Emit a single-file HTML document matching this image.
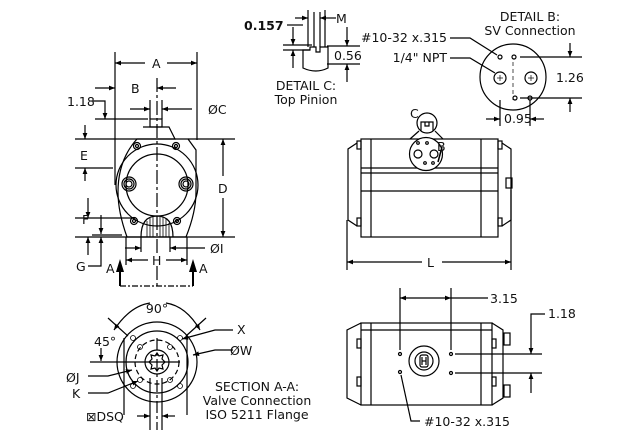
<!DOCTYPE html>
<html><head><meta charset="utf-8"><style>
html,body{margin:0;padding:0;background:#fff;}
svg{display:block}
text{font-family:"DejaVu Sans","Liberation Sans",sans-serif;font-size:12.5px;fill:#111}
</style></head><body>
<svg width="624" height="432" viewBox="0 0 624 432" xmlns="http://www.w3.org/2000/svg">
<defs>
<marker id="a" viewBox="0 0 10 10" refX="10" refY="5" markerWidth="8" markerHeight="6" orient="auto-start-reverse" markerUnits="userSpaceOnUse"><path d="M0,1 L10,5 L0,9 z" fill="#000"/></marker>
</defs>
<g stroke="#000" stroke-width="1.2" fill="none">
<!-- FRONT VIEW -->
<line x1="115" y1="52" x2="115" y2="185"/>
<line x1="197" y1="52" x2="197" y2="140"/>
<line x1="115" y1="63" x2="145" y2="63" marker-start="url(#a)"/>
<line x1="167" y1="63" x2="197" y2="63" marker-end="url(#a)"/>
<line x1="95" y1="88" x2="115" y2="88" marker-end="url(#a)"/>
<line x1="176" y1="88" x2="157" y2="88" marker-end="url(#a)"/>
<line x1="157" y1="78" x2="157" y2="253" stroke-dasharray="14,3,3,3"/>
<line x1="157" y1="266" x2="157" y2="288" stroke-dasharray="14,3,3,3"/>
<line x1="150" y1="100" x2="150" y2="119"/>
<line x1="162" y1="100" x2="162" y2="119"/>
<line x1="130" y1="109" x2="150" y2="109" marker-end="url(#a)"/>
<line x1="192" y1="109" x2="162" y2="109" marker-end="url(#a)"/>
<polyline points="93,101 105,101 105,119" marker-end="url(#a)"/>
<line x1="95" y1="119" x2="148" y2="119"/>
<rect x="150" y="119" width="12" height="8"/>
<polyline points="143,127 169,127 175,139 137,139"/>
<line x1="75" y1="139" x2="137" y2="139"/>
<line x1="188" y1="139" x2="235" y2="139"/>
<path d="M137,139 L188,139 L196,150 L196,192 Q196,212 186,237 L127,237 Q118,212 118,192 Q118,160 137,139 Z"/>
<circle cx="157" cy="185" r="41"/>
<circle cx="157" cy="185" r="31"/>
<circle cx="137" cy="146" r="3.5"/><circle cx="137" cy="146" r="1.5"/>
<circle cx="176" cy="146" r="3.5"/><circle cx="176" cy="146" r="1.5"/>
<circle cx="134" cy="221" r="3.5"/><circle cx="134" cy="221" r="1.5"/>
<circle cx="177" cy="221" r="3.5"/><circle cx="177" cy="221" r="1.5"/>
<circle cx="129" cy="184" r="7"/><circle cx="129" cy="184" r="5"/><circle cx="129" cy="184" r="3"/>
<circle cx="186" cy="184" r="7"/><circle cx="186" cy="184" r="5"/><circle cx="186" cy="184" r="3"/>
<path d="M141,237 Q141,216 157,216 Q173,216 173,237"/>
<g stroke-width="0.8"><line x1="147" y1="221" x2="147" y2="237"/><line x1="150" y1="218" x2="150" y2="237"/><line x1="153" y1="217" x2="153" y2="237"/><line x1="160" y1="217" x2="160" y2="237"/><line x1="163" y1="217" x2="163" y2="237"/><line x1="166" y1="219" x2="166" y2="237"/><line x1="169" y1="223" x2="169" y2="237"/></g>
<line x1="75" y1="237" x2="235" y2="237"/>
<line x1="75" y1="168" x2="113" y2="168"/>
<line x1="85" y1="125" x2="85" y2="139" marker-end="url(#a)"/>
<line x1="85" y1="181" x2="85" y2="168" marker-end="url(#a)"/>
<line x1="223" y1="176" x2="223" y2="139" marker-end="url(#a)"/>
<line x1="223" y1="198" x2="223" y2="237" marker-end="url(#a)"/>
<line x1="75" y1="218" x2="135" y2="218"/>
<line x1="88" y1="198" x2="88" y2="218" marker-end="url(#a)"/>
<line x1="88" y1="255" x2="88" y2="237" marker-end="url(#a)"/>
<line x1="92" y1="235" x2="122" y2="235"/>
<polyline points="88,266 101,266 101,237" marker-end="url(#a)"/>
<line x1="101" y1="215" x2="101" y2="234" marker-end="url(#a)"/>
<line x1="141" y1="237" x2="141" y2="252"/>
<line x1="170" y1="237" x2="170" y2="252"/>
<line x1="125" y1="248" x2="141" y2="248" marker-end="url(#a)"/>
<line x1="205" y1="248" x2="170" y2="248" marker-end="url(#a)"/>
<line x1="126" y1="237" x2="126" y2="265"/>
<line x1="187" y1="237" x2="187" y2="265"/>
<line x1="126" y1="260" x2="148" y2="260" marker-start="url(#a)"/>
<line x1="166" y1="260" x2="187" y2="260" marker-end="url(#a)"/>
<line x1="120" y1="286" x2="193" y2="286" stroke-dasharray="6,2,2,2"/>
<line x1="120" y1="286" x2="120" y2="270" stroke-width="2"/>
<line x1="193" y1="286" x2="193" y2="270" stroke-width="2"/>
</g>
<path d="M116,272 L120,259 L124,272 Z M189,272 L193,259 L197,272 Z" fill="#000"/>
<text x="152" y="68">A</text><text x="131" y="93">B</text>
<text x="208" y="114">ØC</text><text x="67" y="106" font-size="11">1.18</text>
<text x="80" y="160">E</text><text x="218" y="193">D</text>
<text x="82" y="224">F</text><text x="76" y="271">G</text>
<text x="210" y="253">ØI</text><text x="152" y="265">H</text>
<text x="106" y="273">A</text><text x="199" y="273">A</text>

<!-- DETAIL C -->
<g stroke="#000" stroke-width="1.2" fill="none">
<line x1="308" y1="10" x2="308" y2="47"/><line x1="314" y1="12" x2="314" y2="47"/>
<line x1="320" y1="12" x2="320" y2="47"/><line x1="325" y1="10" x2="325" y2="47"/>
<line x1="283" y1="45" x2="312" y2="45"/><line x1="283" y1="50" x2="310" y2="50"/>
<path d="M303,50 L310,50 L310,47 L316,47 L316,52 L320,52 L320,47 L328,47 L328,68 Q316,74 303,68 Z"/>
<line x1="295" y1="18" x2="308" y2="18" marker-end="url(#a)"/>
<line x1="336" y1="18" x2="320" y2="18" marker-end="url(#a)"/>
<line x1="287" y1="25" x2="303" y2="25"/>
<line x1="293" y1="27" x2="293" y2="45" marker-end="url(#a)"/>
<line x1="293" y1="68" x2="293" y2="50" marker-end="url(#a)"/>
<line x1="327" y1="46" x2="360" y2="46"/><line x1="327" y1="64" x2="360" y2="64"/>
<line x1="347" y1="27" x2="347" y2="46" marker-end="url(#a)"/>
<line x1="347" y1="82" x2="347" y2="64" marker-end="url(#a)"/>
</g>
<text x="244" y="30" font-weight="bold">0.157</text>
<text x="336" y="23">M</text><text x="334" y="60">0.56</text>
<text x="306" y="90" text-anchor="middle">DETAIL C:</text>
<text x="306" y="104" text-anchor="middle">Top Pinion</text>

<!-- DETAIL B -->
<g stroke="#000" stroke-width="1.2" fill="none">
<circle cx="513" cy="77" r="33"/>
<circle cx="500" cy="78" r="6"/><circle cx="531" cy="78" r="6"/>
<circle cx="500" cy="57" r="2"/><circle cx="514" cy="57" r="2"/>
<circle cx="515" cy="98" r="2"/><circle cx="530" cy="98" r="2"/>
<g stroke-width="0.7"><line x1="497" y1="78" x2="503" y2="78"/><line x1="500" y1="75" x2="500" y2="81"/>
<line x1="528" y1="78" x2="534" y2="78"/><line x1="531" y1="75" x2="531" y2="81"/>
<line x1="513" y1="62" x2="513" y2="100" stroke-dasharray="4,3"/></g>
<line x1="520" y1="57" x2="582" y2="57"/><line x1="520" y1="98" x2="582" y2="98"/>
<line x1="570" y1="43" x2="570" y2="57" marker-end="url(#a)"/>
<line x1="570" y1="112" x2="570" y2="98" marker-end="url(#a)"/>
<line x1="500" y1="100" x2="500" y2="126"/><line x1="530" y1="100" x2="530" y2="126"/>
<line x1="486" y1="119" x2="500" y2="119" marker-end="url(#a)"/>
<line x1="544" y1="119" x2="530" y2="119" marker-end="url(#a)"/>
<polyline points="450,38 470,38 497,55"/>
<polyline points="450,58 470,58 495,73"/>
</g>
<text x="530" y="21" text-anchor="middle">DETAIL B:</text>
<text x="530" y="35" text-anchor="middle">SV Connection</text>
<text x="447" y="42" text-anchor="end">#10-32 x.315</text>
<text x="447" y="62" text-anchor="end">1/4" NPT</text>
<text x="556" y="82">1.26</text><text x="504" y="123">0.95</text>

<!-- SIDE VIEW -->
<g stroke="#000" stroke-width="1.2" fill="none">
<rect x="361" y="139" width="137" height="98"/>
<line x1="371" y1="139" x2="371" y2="237"/><line x1="481" y1="139" x2="481" y2="237"/>
<line x1="361" y1="168" x2="498" y2="168"/><line x1="361" y1="173" x2="498" y2="173"/><line x1="361" y1="191" x2="498" y2="191"/>
<polyline points="357,143 348,149 348,220 357,226"/>
<polyline points="502,143 511,149 511,220 502,226"/>
<rect x="357" y="141" width="4" height="8"/><rect x="357" y="218" width="4" height="8"/>
<rect x="498" y="141" width="4" height="8"/><rect x="498" y="218" width="4" height="8"/>
<rect x="506" y="178" width="6" height="10"/>
<line x1="347" y1="220" x2="347" y2="270"/><line x1="511" y1="190" x2="511" y2="270"/>
<line x1="347" y1="262" x2="422" y2="262" marker-start="url(#a)"/>
<line x1="442" y1="262" x2="511" y2="262" marker-end="url(#a)"/>
<circle cx="426" cy="154" r="16.5" fill="#fff"/>
<circle cx="418" cy="154" r="4"/><circle cx="434" cy="154" r="4"/>
<circle cx="418" cy="143" r="1.3"/><circle cx="427" cy="143" r="1.3"/>
<circle cx="425" cy="163" r="1.3"/><circle cx="433" cy="163" r="1.3"/>
<circle cx="427" cy="123" r="10" fill="#fff"/>
<path d="M421,131 L421,122 L433,122 L433,131 M425,122 L425,126 L429,126 L429,122"/>
<line x1="419" y1="131" x2="410" y2="139"/><line x1="435" y1="131" x2="443" y2="139"/>
<line x1="442" y1="147" x2="438" y2="162" stroke-width="1.5"/>
</g>
<text x="410" y="118" font-size="11">C</text><text x="437" y="151" font-size="11">B</text>
<text x="427" y="267">L</text>

<!-- TOP VIEW -->
<g stroke="#000" stroke-width="1.2" fill="none">
<rect x="361" y="323" width="131" height="82"/>
<line x1="371" y1="323" x2="371" y2="405"/><line x1="481" y1="323" x2="481" y2="405"/>
<line x1="361" y1="330" x2="492" y2="330"/>
<polyline points="361,323 347,330 347,398 361,405"/>
<polyline points="492,323 503,330 503,398 492,405"/>
<rect x="357" y="339" width="4" height="9"/><rect x="357" y="377" width="4" height="9"/>
<rect x="492" y="339" width="4" height="9"/><rect x="492" y="377" width="4" height="9"/>
<rect x="504" y="333" width="6" height="12"/><rect x="504" y="385" width="6" height="12"/>
<circle cx="424" cy="361" r="15"/><circle cx="424" cy="361" r="9"/>
<rect x="420" y="355" width="8" height="12" rx="2"/>
<line x1="422" y1="357" x2="422" y2="365"/><line x1="426" y1="357" x2="426" y2="365"/><line x1="422" y1="361" x2="426" y2="361"/>
<circle cx="400" cy="354" r="1.5"/><circle cx="451" cy="354" r="1.5"/>
<circle cx="451" cy="373" r="1.5"/><circle cx="400" cy="372" r="1.5"/>
<line x1="400" y1="288" x2="400" y2="350"/><line x1="451" y1="288" x2="451" y2="350"/>
<line x1="400" y1="298" x2="451" y2="298" marker-start="url(#a)" marker-end="url(#a)"/>
<line x1="451" y1="298" x2="488" y2="298"/>
<line x1="455" y1="354" x2="542" y2="354"/><line x1="455" y1="373" x2="542" y2="373"/>
<polyline points="545,314 531,314 531,354" marker-end="url(#a)"/>
<line x1="531" y1="393" x2="531" y2="373" marker-end="url(#a)"/>
<polyline points="420,421 411,421 401,375"/>
</g>
<text x="490" y="303">3.15</text><text x="548" y="318">1.18</text>
<text x="424" y="426">#10-32 x.315</text>

<!-- SECTION A-A -->
<g stroke="#000" stroke-width="1.2" fill="none">
<circle cx="157" cy="362" r="40"/>
<circle cx="157" cy="362" r="31"/>
<circle cx="157" cy="362" r="22" stroke-dasharray="5,3"/>
<circle cx="157" cy="362" r="12"/>
<path d="M157,353 l2,3 l4,-1 l-1,4 l3,3 l-3,3 l1,4 l-4,-1 l-2,3 l-2,-3 l-4,1 l1,-4 l-3,-3 l3,-3 l-1,-4 l4,1 z"/>
<line x1="157" y1="338" x2="157" y2="430" stroke-dasharray="12,3,3,3"/>
<line x1="90" y1="362" x2="180" y2="362"/>
<line x1="101" y1="348" x2="101" y2="361" marker-end="url(#a)"/>
<g stroke-width="0.8">
<circle cx="133" cy="338" r="2.5"/><circle cx="180" cy="338" r="2.5"/>
<circle cx="133" cy="386" r="2.5"/><circle cx="180" cy="386" r="2.5"/>
<circle cx="140" cy="347" r="2.5"/><circle cx="170" cy="347" r="2.5"/>
<circle cx="140" cy="380" r="2.5"/><circle cx="170" cy="380" r="2.5"/>
</g>
<line x1="108" y1="318" x2="128" y2="336"/><line x1="206" y1="318" x2="186" y2="336"/>
<path d="M114,330 Q130,306 150,303" marker-start="url(#a)"/>
<path d="M166,303 Q186,306 200,330" marker-end="url(#a)"/>
<line x1="124" y1="338" x2="124" y2="415"/><line x1="187" y1="338" x2="187" y2="415"/>
<polyline points="233,330 215,330 182,339" marker-end="url(#a)"/>
<polyline points="233,350 215,350 193,355" marker-end="url(#a)"/>
<polyline points="88,376 108,376 132,370" marker-end="url(#a)"/>
<polyline points="88,393 108,393 138,381" marker-end="url(#a)"/>
<line x1="150" y1="378" x2="150" y2="430"/><line x1="162" y1="378" x2="162" y2="430"/>
<line x1="137" y1="416" x2="150" y2="416" marker-end="url(#a)"/>
<line x1="175" y1="416" x2="162" y2="416" marker-end="url(#a)"/>
</g>
<text x="157" y="313" text-anchor="middle">90°</text>
<text x="94" y="346">45°</text>
<text x="237" y="334">X</text><text x="230" y="355">ØW</text>
<text x="66" y="382">ØJ</text><text x="72" y="398">K</text>
<text x="86" y="421">⊠DSQ</text>
<text x="257" y="391" text-anchor="middle" font-size="13">SECTION A-A:</text>
<text x="257" y="405" text-anchor="middle" font-size="13">Valve Connection</text>
<text x="257" y="419" text-anchor="middle" font-size="13">ISO 5211 Flange</text>
</svg>
</body></html>
